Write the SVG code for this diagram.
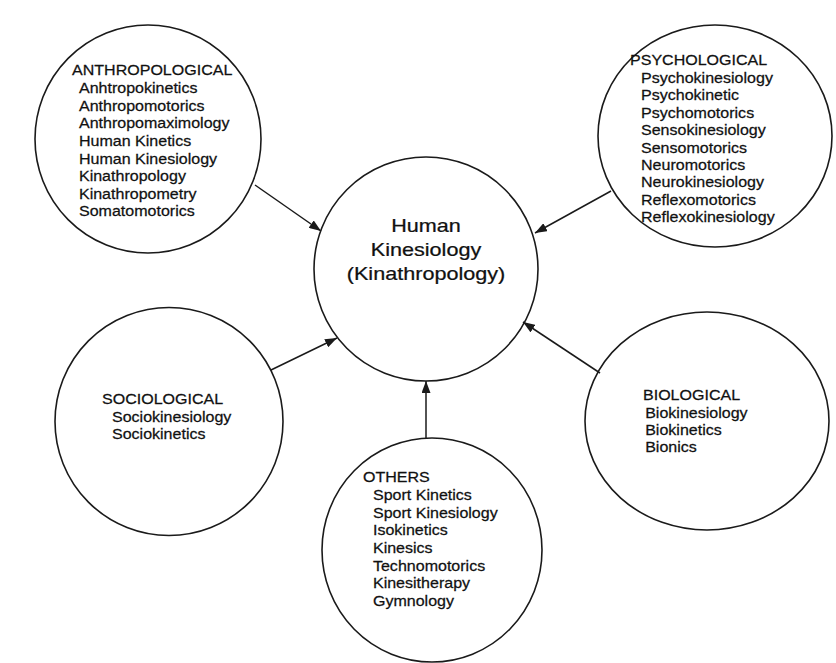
<svg xmlns="http://www.w3.org/2000/svg" width="836" height="663" viewBox="0 0 836 663">
<style>
.c{fill:none;stroke:#1a1a1a;stroke-width:1.6}
.e{stroke:#1a1a1a;stroke-width:1.5;fill:none}
text{font-family:"Liberation Sans",Arial,Helvetica,sans-serif;fill:#111;stroke:#111;stroke-width:0.25}
.t{font-size:15px}
.m{font-size:18px;text-anchor:middle}
</style>
<defs>
<marker id="ah" markerUnits="userSpaceOnUse" markerWidth="13" markerHeight="9" refX="12" refY="4.5" orient="auto">
<path d="M0,0 L12,4.5 L0,9 z" fill="#1a1a1a"/>
</marker>
</defs>
<rect width="836" height="663" fill="#ffffff"/>
<g id="connectors">
<path class="e" d="M255,185 L321,231" marker-end="url(#ah)"/>
<path class="e" d="M611,191 L535,233" marker-end="url(#ah)"/>
<path class="e" d="M271,370 L337,338" marker-end="url(#ah)"/>
<path class="e" d="M600,373 L523,322" marker-end="url(#ah)"/>
<path class="e" d="M426,438 L426,381" marker-end="url(#ah)"/>
</g>
<g id="center">
<circle class="c" cx="426" cy="269" r="112"/>
<g transform="translate(426,0) scale(1.2,1)">
<text class="m" x="0" y="232">Human</text>
<text class="m" x="0" y="256">Kinesiology</text>
<text class="m" x="0" y="280">(Kinathropology)</text>
</g>
</g>
<g id="anthropological">
<ellipse class="c" cx="148" cy="139" rx="113" ry="114"/>
<g transform="translate(72,0) scale(1.07,1)">
<text class="t" x="0" y="75.5">ANTHROPOLOGICAL</text>
<text class="t" x="6.5" y="93.3">Anhtropokinetics</text>
<text class="t" x="6.5" y="110.9">Anthropomotorics</text>
<text class="t" x="6.5" y="128.5">Anthropomaximology</text>
<text class="t" x="6.5" y="146.1">Human Kinetics</text>
<text class="t" x="6.5" y="163.7">Human Kinesiology</text>
<text class="t" x="6.5" y="181.3">Kinathropology</text>
<text class="t" x="6.5" y="198.9">Kinathropometry</text>
<text class="t" x="6.5" y="216.5">Somatomotorics</text>
</g>
</g>
<g id="psychological">
<ellipse class="c" cx="715" cy="136" rx="117" ry="111"/>
<g transform="translate(630,0) scale(1.07,1)">
<text class="t" x="0" y="65">PSYCHOLOGICAL</text>
<text class="t" x="10.3" y="83">Psychokinesiology</text>
<text class="t" x="10.3" y="100.4">Psychokinetic</text>
<text class="t" x="10.3" y="117.8">Psychomotorics</text>
<text class="t" x="10.3" y="135.2">Sensokinesiology</text>
<text class="t" x="10.3" y="152.6">Sensomotorics</text>
<text class="t" x="10.3" y="170">Neuromotorics</text>
<text class="t" x="10.3" y="187.4">Neurokinesiology</text>
<text class="t" x="10.3" y="204.8">Reflexomotorics</text>
<text class="t" x="10.3" y="222.2">Reflexokinesiology</text>
</g>
</g>
<g id="sociological">
<circle class="c" cx="169" cy="421.5" r="114"/>
<g transform="translate(102,0) scale(1.07,1)">
<text class="t" x="0" y="404">SOCIOLOGICAL</text>
<text class="t" x="9.3" y="421.7">Sociokinesiology</text>
<text class="t" x="9.3" y="439.3">Sociokinetics</text>
</g>
</g>
<g id="biological">
<ellipse class="c" cx="707" cy="421" rx="122" ry="109"/>
<g transform="translate(643,0) scale(1.07,1)">
<text class="t" x="0" y="400">BIOLOGICAL</text>
<text class="t" x="2" y="418">Biokinesiology</text>
<text class="t" x="2" y="435">Biokinetics</text>
<text class="t" x="2" y="452">Bionics</text>
</g>
</g>
<g id="others">
<ellipse class="c" cx="432" cy="550" rx="110" ry="112"/>
<g transform="translate(363,0) scale(1.07,1)">
<text class="t" x="0" y="481.7">OTHERS</text>
<text class="t" x="9.3" y="500">Sport Kinetics</text>
<text class="t" x="9.3" y="517.7">Sport Kinesiology</text>
<text class="t" x="9.3" y="535.4">Isokinetics</text>
<text class="t" x="9.3" y="553.1">Kinesics</text>
<text class="t" x="9.3" y="570.8">Technomotorics</text>
<text class="t" x="9.3" y="588.5">Kinesitherapy</text>
<text class="t" x="9.3" y="606.2">Gymnology</text>
</g>
</g>
</svg>
